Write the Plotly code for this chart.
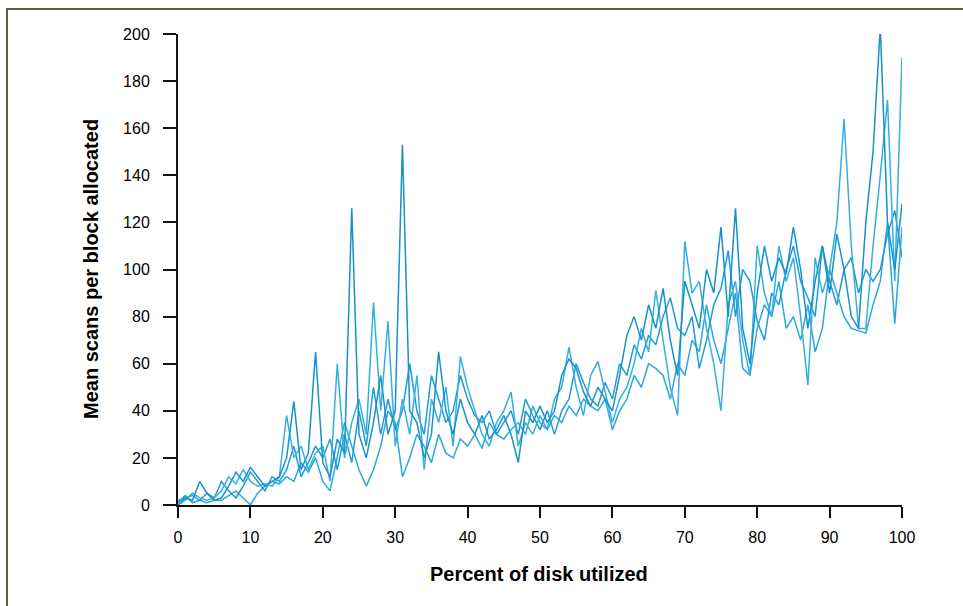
import plotly.graph_objects as go

x_pct = list(range(0, 101))

series_a = [0, 3, 2, 10, 5, 2, 3, 8, 14, 10,
            16, 12, 8, 10, 12, 20, 44, 15, 22, 65,
            18, 12, 28, 22, 126, 30, 20, 35, 55, 30,
            40, 153, 40, 35, 20, 30, 65, 40, 30, 45,
            35, 30, 38, 28, 32, 38, 30, 18, 40, 35,
            42, 35, 40, 55, 62, 58, 48, 42, 50, 45,
            40, 55, 72, 80, 70, 85, 75, 92, 70, 55,
            95, 85, 75, 100, 90, 118, 80, 126, 75, 60,
            90, 110, 95, 105, 98, 118, 100, 75, 95, 110,
            90, 115, 100, 80, 75, 120, 150, 203, 120, 100,
            128]

series_b = [0, 2, 5, 3, 2, 3, 6, 12, 9, 15,
            10, 8, 9, 8, 12, 38, 20, 25, 15, 22,
            25, 10, 60, 20, 35, 45, 30, 86, 40, 78,
            25, 45, 30, 55, 15, 45, 35, 50, 25, 63,
            50, 40, 30, 25, 35, 40, 48, 25, 35, 30,
            38, 32, 45, 50, 67, 50, 38, 55, 61, 48,
            35, 45, 50, 60, 75, 65, 91, 70, 50, 38,
            112, 90, 95, 75, 60, 40, 85, 95, 70, 55,
            110, 90, 80, 110, 95, 105, 80, 51, 105, 90,
            100, 120, 164, 110, 75, 75, 110, 140, 172, 95,
            190]

series_c = [2, 3, 4, 2, 1, 2, 2, 4, 6, 3,
            0, 5, 8, 10, 9, 12, 10, 18, 14, 20,
            10, 6, 20, 35, 25, 15, 8, 15, 25, 40,
            35, 12, 20, 30, 25, 18, 30, 22, 20, 28,
            25, 30, 24, 35, 30, 28, 32, 35, 30, 42,
            35, 32, 38, 35, 42, 38, 45, 42, 40, 45,
            32, 40, 45, 55, 50, 60, 58, 55, 45, 60,
            55, 70, 65, 85, 70, 60, 75, 90, 58, 55,
            75, 85, 80, 95, 75, 80, 70, 85, 65, 75,
            100, 90, 80, 75, 74, 73, 85, 95, 120, 77,
            118]

series_d = [1, 4, 1, 2, 5, 3, 10, 6, 3, 8,
            14, 10, 6, 12, 10, 15, 25, 12, 18, 25,
            20, 28, 15, 30, 18, 40, 25, 50, 30, 45,
            32, 40, 60, 40, 30, 55, 45, 35, 40, 55,
            45, 38, 35, 40, 30, 35, 40, 30, 45, 38,
            32, 40, 30, 40, 45, 60, 52, 45, 42, 52,
            45, 60, 55, 68, 62, 72, 68, 80, 88, 75,
            72, 80, 58, 70, 85, 92, 108, 80, 100, 95,
            78, 70, 90, 85, 100, 110, 95, 88, 80, 110,
            95, 85, 100, 105, 90, 100, 95, 100, 115, 125,
            105]

x_ticks = [0, 10, 20, 30, 40, 50, 60, 70, 80, 90, 100]
y_ticks = [0, 20, 40, 60, 80, 100, 120, 140, 160, 180, 200]

colors = ["#2aa8dc", "#1f9bd3", "#35b0de", "#1891cc"]

fig = go.Figure()
for ys, c in zip([series_c, series_d, series_b, series_a], colors):
    fig.add_trace(go.Scatter(x=x_pct, y=ys, mode="lines",
                             line=dict(color=c, width=1.5),
                             showlegend=False, hoverinfo="skip"))

W, H = 963, 606
L, R, T, B = 178, 61, 34, 101
pw, ph = W - L - R, H - T - B

def px(xp):
    return (xp - L) / pw

def py(yp):
    return (H - B - yp) / ph

fig.update_layout(
    width=W, height=H,
    margin=dict(l=L, r=R, t=T, b=B),
    paper_bgcolor="white", plot_bgcolor="white",
    font=dict(family="Liberation Sans, Arial, sans-serif", color="#000"),
    xaxis=dict(range=[0, 100], tickvals=x_ticks, ticks="outside", ticklen=11,
               tickwidth=1.5, tickcolor="#111", showline=True, linecolor="#111",
               linewidth=2, showgrid=False, zeroline=False, ticklabelstandoff=6,
               tickfont=dict(size=16), fixedrange=True),
    yaxis=dict(range=[0, 200], tickvals=y_ticks, ticks="outside", ticklen=13,
               tickwidth=1.5, tickcolor="#111", showline=True, linecolor="#111",
               linewidth=2, showgrid=False, zeroline=False, ticklabelstandoff=10,
               tickfont=dict(size=16), fixedrange=True),
    annotations=[
        dict(text="<b>Percent of disk utilized</b>", xref="paper", yref="paper",
             x=px(539), y=py(574), showarrow=False, font=dict(size=20),
             xanchor="center", yanchor="middle"),
        dict(text="<b>Mean scans per block allocated</b>", xref="paper", yref="paper",
             x=px(91), y=py(269), showarrow=False, font=dict(size=20),
             textangle=-90, xanchor="center", yanchor="middle"),
    ],
    shapes=[
        dict(type="line", xref="paper", yref="paper", x0=px(6), x1=px(963),
             y0=py(9), y1=py(9), line=dict(color="#5c5c48", width=2)),
        dict(type="line", xref="paper", yref="paper", x0=px(7), x1=px(7),
             y0=py(9), y1=py(606), line=dict(color="#5c5c48", width=2)),
    ],
)

fig.write_html("out.html", config={"displayModeBar": False},
               post_script="document.body.style.margin='0px';document.body.style.overflow='hidden';")
